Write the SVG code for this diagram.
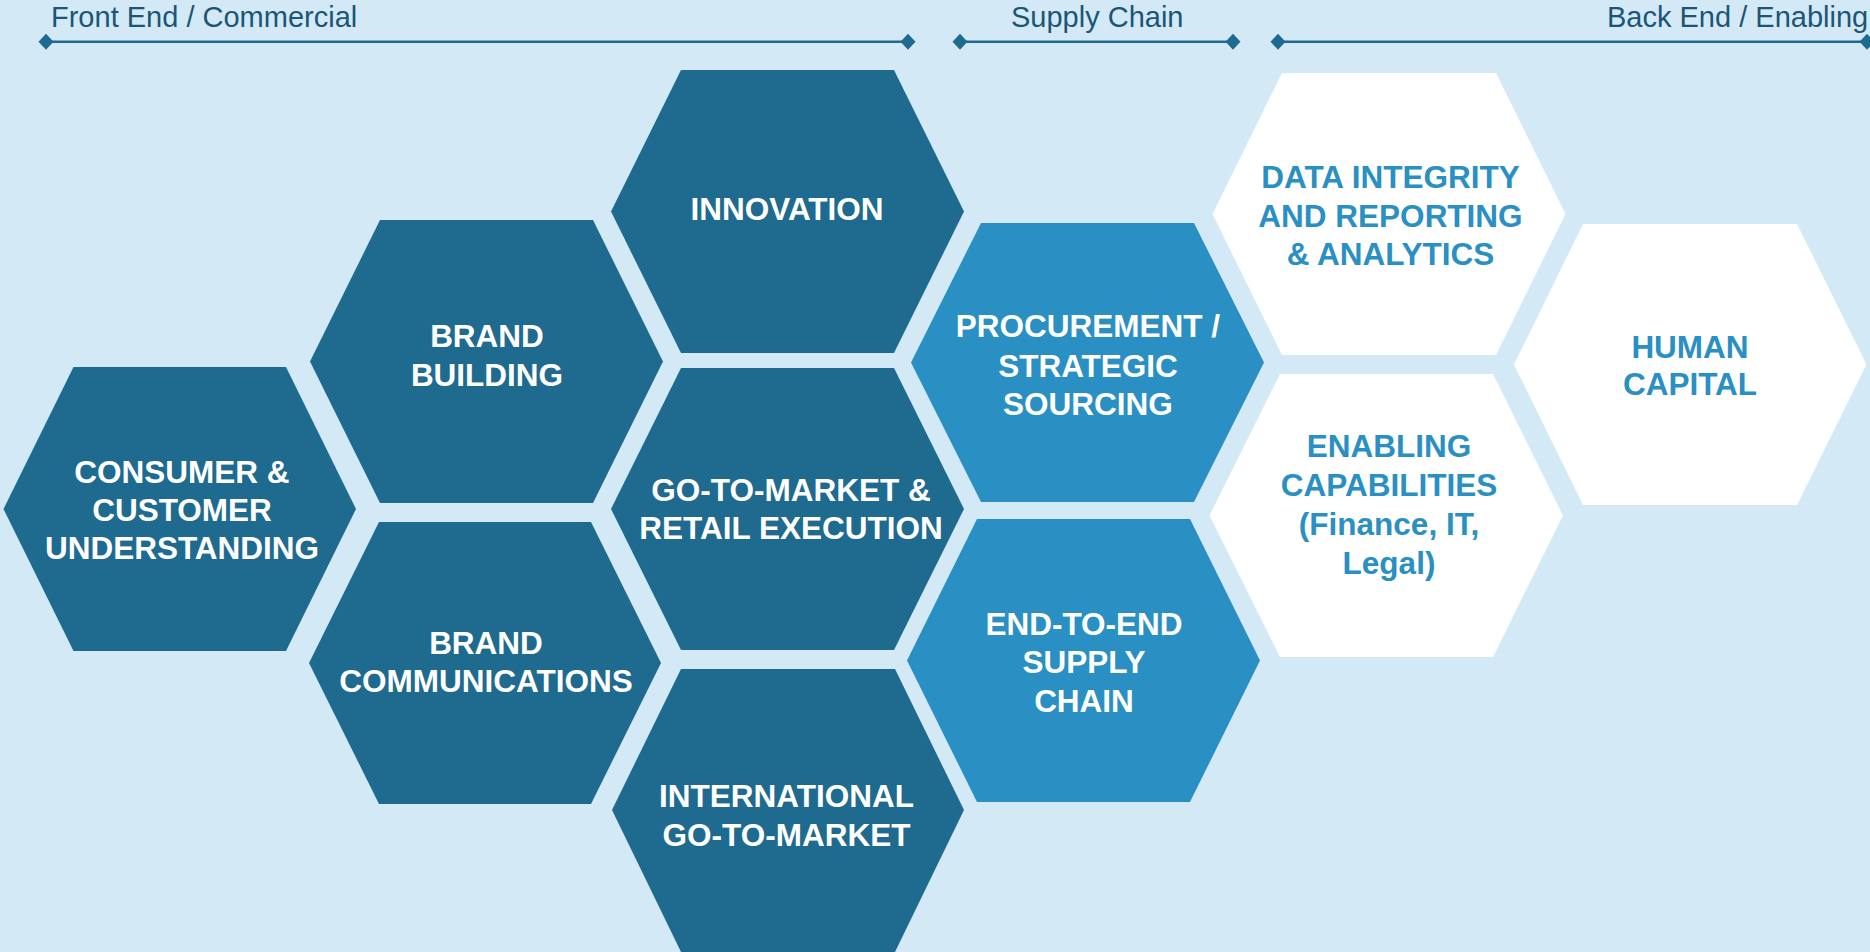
<svg xmlns="http://www.w3.org/2000/svg" width="1870" height="952" viewBox="0 0 1870 952">
  <defs>
    <style>
      .bg { fill: #d3eaf6; }
      .hex-dark { fill: #1f6a8f; }
      .hex-mid { fill: #2a8fc3; }
      .hex-light { fill: #ffffff; }
      .label { font-family: "Liberation Sans", Arial, sans-serif; font-weight: bold; font-size: 31.5px; text-anchor: middle; }
      .on-dark { fill: #ffffff; }
      .on-light { fill: #2a8fc3; }
      .section { font-family: "Liberation Sans", Arial, sans-serif; font-size: 29px; fill: #1c5577; }
      .span-line { stroke: #1f6a8f; stroke-width: 2.6; fill: none; }
    </style>
    <marker id="diamond" viewBox="-8 -8 16 16" markerWidth="16" markerHeight="16" refX="0" refY="0" markerUnits="userSpaceOnUse" orient="auto">
      <polygon points="-7.5,0 0,-8 7.5,0 0,8" fill="#1f6a8f"/>
    </marker>
  </defs>

  <rect class="bg" x="0" y="0" width="1870" height="952"/>

  <!-- section headings with span lines -->
  <g id="sections">
    <text class="section" x="51" y="27">Front End / Commercial</text>
    <text class="section" x="1011" y="27">Supply Chain</text>
    <text class="section" x="1607" y="27">Back End / Enabling</text>
  </g>
  <g id="connectors">
    <line class="span-line" x1="46" y1="41.7" x2="908" y2="41.7" marker-start="url(#diamond)" marker-end="url(#diamond)"/>
    <line class="span-line" x1="960" y1="41.7" x2="1233" y2="41.7" marker-start="url(#diamond)" marker-end="url(#diamond)"/>
    <line class="span-line" x1="1278" y1="41.7" x2="1867" y2="41.7" marker-start="url(#diamond)" marker-end="url(#diamond)"/>
  </g>

  <!-- front end / commercial -->
  <g id="consumer-customer">
    <polygon class="hex-dark" points="3.5,509 73.5,367 286,367 356,509 286,651 73.5,651"/>
    <text class="label on-dark" x="182" y="482.7">CONSUMER &amp;</text>
    <text class="label on-dark" x="182" y="521">CUSTOMER</text>
    <text class="label on-dark" x="182" y="559.3">UNDERSTANDING</text>
  </g>
  <g id="brand-building">
    <polygon class="hex-dark" points="310,361.5 380,220 593,220 663,361.5 593,503 380,503"/>
    <text class="label on-dark" x="487" y="346.7">BRAND</text>
    <text class="label on-dark" x="487" y="385.7">BUILDING</text>
  </g>
  <g id="brand-communications">
    <polygon class="hex-dark" points="309,663 379,522 591,522 661,663 591,804 379,804"/>
    <text class="label on-dark" x="486" y="654">BRAND</text>
    <text class="label on-dark" x="486" y="692.3">COMMUNICATIONS</text>
  </g>
  <g id="innovation">
    <polygon class="hex-dark" points="611,211.5 681,70 894,70 964,211.5 894,353 681,353"/>
    <text class="label on-dark" x="787" y="220">INNOVATION</text>
  </g>
  <g id="go-to-market-retail">
    <polygon class="hex-dark" points="611,509 681,368 894,368 964,509 894,650 681,650"/>
    <text class="label on-dark" x="791" y="500.7">GO-TO-MARKET &amp;</text>
    <text class="label on-dark" x="791" y="539">RETAIL EXECUTION</text>
  </g>
  <g id="international-go-to-market">
    <polygon class="hex-dark" points="612,810 681,669 895,669 964,810 895,952 681,952"/>
    <text class="label on-dark" x="786.5" y="807.3">INTERNATIONAL</text>
    <text class="label on-dark" x="786.5" y="846">GO-TO-MARKET</text>
  </g>

  <!-- supply chain -->
  <g id="procurement">
    <polygon class="hex-mid" points="911,362.5 981,223 1194,223 1264,362.5 1194,502 981,502"/>
    <text class="label on-dark" x="1088" y="337.3">PROCUREMENT /</text>
    <text class="label on-dark" x="1088" y="376.7">STRATEGIC</text>
    <text class="label on-dark" x="1088" y="415">SOURCING</text>
  </g>
  <g id="end-to-end-supply-chain">
    <polygon class="hex-mid" points="907,660.5 977,519 1190,519 1260,660.5 1190,802 977,802"/>
    <text class="label on-dark" x="1084" y="635">END-TO-END</text>
    <text class="label on-dark" x="1084" y="673.3">SUPPLY</text>
    <text class="label on-dark" x="1084" y="711.7">CHAIN</text>
  </g>

  <!-- back end / enabling -->
  <g id="data-integrity">
    <polygon class="hex-light" points="1212.5,214 1282,73 1496,73 1565.5,214 1496,355 1282,355"/>
    <text class="label on-light" x="1390.5" y="188.3">DATA INTEGRITY</text>
    <text class="label on-light" x="1390.5" y="226.7">AND REPORTING</text>
    <text class="label on-light" x="1390.5" y="265.4">&amp; ANALYTICS</text>
  </g>
  <g id="enabling-capabilities">
    <polygon class="hex-light" points="1209.5,515.5 1280,374 1493,374 1563,515.5 1493,657 1280,657"/>
    <text class="label on-light" x="1389" y="457">ENABLING</text>
    <text class="label on-light" x="1389" y="496">CAPABILITIES</text>
    <text class="label on-light" x="1389" y="535">(Finance, IT,</text>
    <text class="label on-light" x="1389" y="573.5">Legal)</text>
  </g>
  <g id="human-capital">
    <polygon class="hex-light" points="1514,364.5 1583,224 1797,224 1866.5,364.5 1797,505 1583,505"/>
    <text class="label on-light" x="1690" y="357.5">HUMAN</text>
    <text class="label on-light" x="1690" y="395">CAPITAL</text>
  </g>
</svg>
